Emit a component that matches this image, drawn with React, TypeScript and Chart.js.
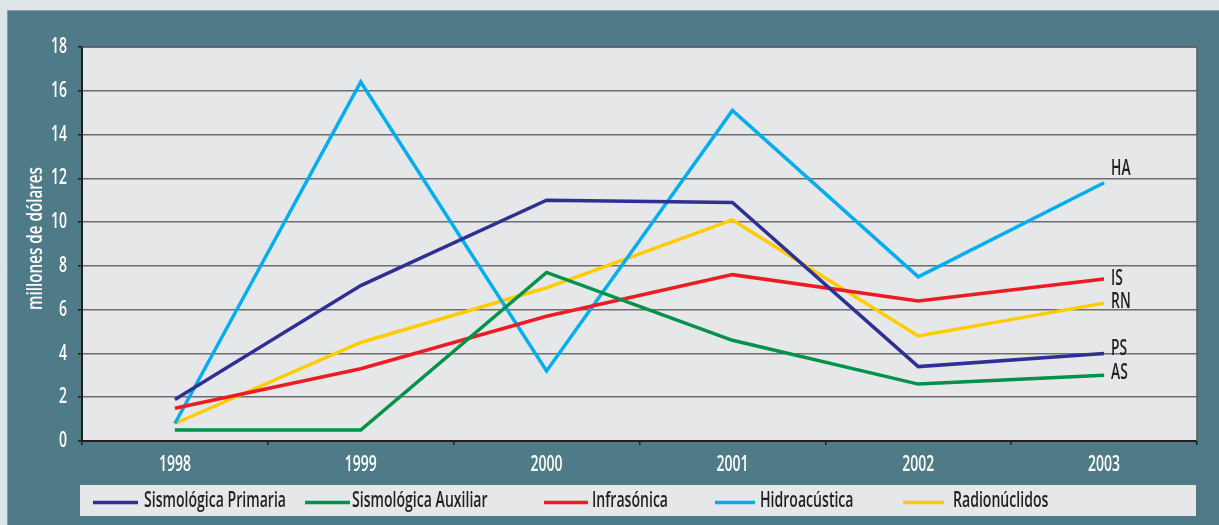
import React, { useEffect, useRef } from "react";
import { Chart, registerables } from "chart.js";

Chart.register(...registerables);

const years = ["1998", "1999", "2000", "2001", "2002", "2003"];
const seriesNames = ["Sismológica Primaria", "Sismológica Auxiliar", "Infrasónica", "Hidroacústica", "Radionúclidos"];
const endLabels = ["PS", "AS", "IS", "HA", "RN"];
const sismologicaPrimaria = [1.9, 7.1, 11.0, 10.9, 3.4, 4.0];
const sismologicaAuxiliar = [0.5, 0.5, 7.7, 4.6, 2.6, 3.0];
const infrasonica = [1.5, 3.3, 5.7, 7.6, 6.4, 7.4];
const hidroacustica = [0.8, 16.4, 3.2, 15.1, 7.5, 11.8];
const radionuclidos = [0.8, 4.5, 7.0, 10.1, 4.8, 6.3];
const seriesValues = [sismologicaPrimaria, sismologicaAuxiliar, infrasonica, hidroacustica, radionuclidos];
const colors = ["#2e3192", "#00914a", "#ed1c24", "#00aeef", "#ffcc00"];
const yTitle = "millones de dólares";

// layout-only constants
const FONT = "'Open Sans', 'Noto Sans', sans-serif";
const SIZE = 21.5;
const legendLayout: [number, number, number][] = [
  [93, 138, 144],
  [305, 350, 352],
  [544, 588, 592],
  [715, 755, 760],
  [903, 944, 953],
];
const endLabelOffsets: [number, number][] = [[7, -5], [7, -2], [7, 0], [7, -14], [7, -1]];

function fontStr(weight: number) {
  return `${weight} ${SIZE}px ${FONT}`;
}

function measure(ctx: CanvasRenderingContext2D, text: string, weight: number) {
  ctx.save();
  ctx.font = fontStr(weight);
  const w = ctx.measureText(text).width;
  ctx.restore();
  return w;
}

function drawText(
  ctx: CanvasRenderingContext2D,
  text: string,
  x: number,
  y: number,
  opts: { sx: number; color: string; align?: CanvasTextAlign; rotate?: number; weight: number }
) {
  ctx.save();
  ctx.translate(x, y);
  if (opts.rotate) ctx.rotate(opts.rotate);
  ctx.scale(opts.sx, 1);
  ctx.font = fontStr(opts.weight);
  ctx.fillStyle = opts.color;
  ctx.textAlign = opts.align ?? "left";
  ctx.textBaseline = "middle";
  ctx.fillText(text, 0, 0);
  ctx.restore();
}

export default function App() {
  const ref = useRef<HTMLCanvasElement | null>(null);
  useEffect(() => {
    document.body.style.margin = "0";
    const canvas = ref.current!;
    const bgPlugin = {
      id: "bg",
      beforeDraw(chart: any) {
        const { ctx, chartArea: a } = chart;
        ctx.save();
        ctx.fillStyle = "#dee5e8";
        ctx.fillRect(0, 0, chart.width, chart.height);
        ctx.fillStyle = "#4e7b87";
        ctx.fillRect(8, 10, chart.width - 8, chart.height - 10);
        ctx.strokeStyle = "#8f9a9e";
        ctx.lineWidth = 1;
        ctx.beginPath();
        ctx.moveTo(8, 10.5);
        ctx.lineTo(chart.width, 10.5);
        ctx.moveTo(7.5, 10);
        ctx.lineTo(7.5, chart.height);
        ctx.stroke();
        ctx.fillStyle = "#e6e7e8";
        ctx.fillRect(a.left, a.top, a.right - a.left, a.bottom - a.top);
        ctx.restore();
      },
      beforeDatasetsDraw(chart: any) {
        const { ctx, chartArea: a } = chart;
        ctx.save();
        ctx.strokeStyle = "#58595b";
        ctx.lineWidth = 1.5;
        ctx.beginPath();
        ctx.moveTo(a.right, a.top);
        ctx.lineTo(a.right, a.bottom);
        ctx.moveTo(a.left, a.top);
        ctx.lineTo(a.right, a.top);
        ctx.stroke();
        ctx.restore();
      },
      afterDatasetsDraw(chart: any) {
        const { ctx } = chart;
        const sx = 19.5 / measure(ctx, "HA", 600);
        chart.data.datasets.forEach((ds: any, i: number) => {
          const meta = chart.getDatasetMeta(i);
          const p = meta.data[meta.data.length - 1];
          const [dx, dy] = endLabelOffsets[i];
          drawText(ctx, endLabels[i], p.x + dx, p.y + dy, { sx, color: "#231f20", weight: 600 });
        });
      },
      afterDraw(chart: any) {
        const { ctx } = chart;
        const xs = chart.scales.x;
        const ys = chart.scales.y;
        const tickSx = 32 / measure(ctx, "1999", 600);
        xs.ticks.forEach((t: any, i: number) => {
          const label = xs.getLabelForValue(t.value);
          drawText(ctx, label, xs.getPixelForTick(i), 465, { sx: tickSx, color: "#ffffff", align: "center", weight: 600 });
        });
        ys.ticks.forEach((t: any, i: number) => {
          drawText(ctx, String(t.value), 67, ys.getPixelForTick(i), { sx: tickSx, color: "#ffffff", align: "right", weight: 600 });
        });
        const titleSx = 143 / measure(ctx, yTitle, 600);
        drawText(ctx, yTitle, 35.5, 238.5, { sx: titleSx, color: "#ffffff", align: "center", rotate: -Math.PI / 2, weight: 600 });
        // legend
        ctx.save();
        ctx.fillStyle = "#e6e7e8";
        ctx.fillRect(80, 485, 1116, 31);
        seriesNames.forEach((name, i) => {
          const [l0, l1] = legendLayout[i];
          ctx.strokeStyle = colors[i];
          ctx.lineWidth = 3.5;
          ctx.beginPath();
          ctx.moveTo(l0, 502.5);
          ctx.lineTo(l1, 502.5);
          ctx.stroke();
        });
        ctx.restore();
        const legSx = 142 / measure(ctx, seriesNames[0], 600);
        seriesNames.forEach((name, i) => {
          const [, , tx] = legendLayout[i];
          drawText(ctx, name, tx, 500.5, { sx: legSx, color: "#231f20", weight: 600 });
        });
      },
    };

    const chart = new Chart(canvas, {
      type: "line",
      data: {
        labels: years,
        datasets: seriesNames.map((name, i) => ({
          label: name,
          data: seriesValues[i],
          borderColor: colors[i],
          backgroundColor: colors[i],
          borderWidth: 3.5,
          pointRadius: 0,
          tension: 0,
          fill: false,
        })),
      },
      options: {
        responsive: false,
        animation: false,
        devicePixelRatio: 1,
        layout: { padding: { left: 0, top: 47, right: 22, bottom: 40 } },
        plugins: { legend: { display: false }, tooltip: { enabled: false } },
        scales: {
          x: {
            offset: true,
            afterFit: (s: any) => { s.height = 44; },
            grid: { offset: true, drawOnChartArea: false, drawTicks: true, tickLength: 4, color: "#231f20", lineWidth: 1.5 },
            border: { color: "#231f20", width: 2 },
            ticks: { color: "rgba(0,0,0,0)", font: { family: FONT, size: 19 }, padding: 8 },
          },
          y: {
            min: 0,
            max: 18,
            afterFit: (s: any) => { s.width = 82; },
            grid: { color: "#6d6e71", lineWidth: 1.5, tickLength: 4, tickColor: "#231f20" },
            border: { color: "#231f20", width: 2 },
            ticks: { stepSize: 2, color: "rgba(0,0,0,0)", font: { family: FONT, size: 19 }, padding: 11 },
          },
        },
      },
      plugins: [bgPlugin],
    });
    return () => chart.destroy();
  }, []);
  return (
    <div style={{ position: "fixed", left: 0, top: 0, width: 1219, height: 525 }}>
      <canvas ref={ref} width={1219} height={525} style={{ width: 1219, height: 525, display: "block" }} />
    </div>
  );
}
